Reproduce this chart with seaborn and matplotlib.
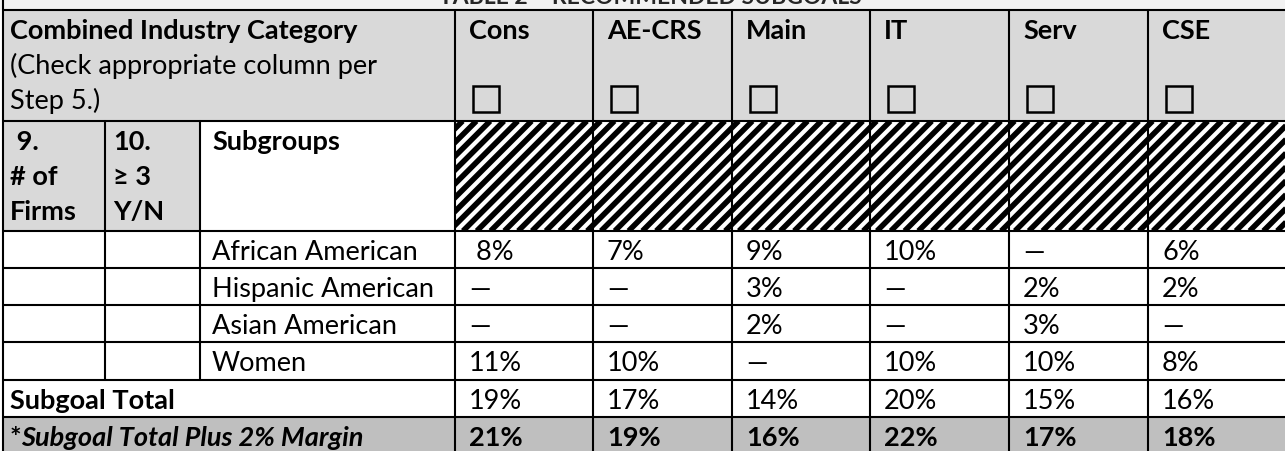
import matplotlib
matplotlib.use("Agg")
import numpy as np
import matplotlib.pyplot as plt
import seaborn as sns
from matplotlib.patches import Rectangle
from matplotlib.collections import LineCollection

# table content
title = "TABLE 2 – RECOMMENDED SUBGOALS"
header_lines = ["Combined Industry Category", "(Check appropriate column per", "Step 5.)"]
categories = ["Cons", "AE-CRS", "Main", "IT", "Serv", "CSE"]
firms_header = [" 9.", "# of", "Firms"]
three_header = ["10.", "≥ 3", "Y/N"]
subgroups = ["African American", "Hispanic American", "Asian American", "Women"]
african_american = [" 8%", "7%", "9%", "10%", "—", "6%"]
hispanic_american = ["—", "—", "3%", "—", "2%", "2%"]
asian_american = ["—", "—", "2%", "—", "3%", "—"]
women = ["11%", "10%", "—", "10%", "10%", "8%"]
subgoal_total = ["19%", "17%", "14%", "20%", "15%", "16%"]
subgoal_plus_margin = ["21%", "19%", "16%", "22%", "17%", "18%"]

sns.set_theme(style="white")
plt.rcParams["font.family"] = ["Lato", "DejaVu Sans"]

W, H = 1285, 452
col_x = [3, 105, 200, 455, 593, 732, 870, 1009, 1148, 1285]
row_y = [11, 122, 232, 269, 306, 343, 381, 418, 452]
hdr_gray = "#d9d9d9"
tot_gray = "#bfbfbf"
fs = 19.5
lw = 1.5
pitch = 35
pad = 28
lx = 10

fig = plt.figure(figsize=(W / 100, H / 100), dpi=100)
ax = fig.add_axes([0, 0, 1, 1])
ax.set_xlim(0, W)
ax.set_ylim(H, 0)
ax.axis("off")


def cell(x0, x1, y0, y1, color):
    ax.add_patch(Rectangle((x0, y0), x1 - x0, y1 - y0, facecolor=color, edgecolor="none", zorder=1))


def txt(x, y, s, weight="normal", style="normal"):
    ax.text(x, y, s, fontsize=fs, fontweight=weight, fontstyle=style,
            ha="left", va="baseline", color="black", zorder=5)


# backgrounds
cell(0, W, 0, row_y[0], "#f2f2f2")
cell(col_x[0], W, row_y[0], row_y[1], hdr_gray)
cell(col_x[0], col_x[2], row_y[1], row_y[2], hdr_gray)
cell(col_x[0], W, row_y[7], row_y[8], tot_gray)

# hatched block
hx0, hx1, hy0, hy1 = col_x[3], W, row_y[1], row_y[2]
clip = Rectangle((hx0, hy0), hx1 - hx0, hy1 - hy0, facecolor="white", edgecolor="none", zorder=1)
ax.add_patch(clip)
offsets = np.arange(hx0 + hy0 - 20, hx1 + hy1 + 20, 13.8)
segs = [[(c - hy1, hy1), (c - hy0, hy0)] for c in offsets]
stripes = LineCollection(segs, colors="black", linewidths=4.0, capstyle="butt", zorder=2)
ax.add_collection(stripes)
stripes.set_clip_path(clip.get_path(), clip.get_transform())

# title (cut off at the top, as in the source)
ax.text(650, 3.5, title, fontsize=16.5, fontweight="bold", ha="center", va="baseline", zorder=5)

# grid lines
for y in row_y[:-1]:
    ax.plot([col_x[0], W], [y, y], color="black", lw=lw, zorder=4, solid_capstyle="butt")
ax.plot([col_x[0], col_x[0]], [0, H], color="black", lw=lw, zorder=4)
for x in col_x[1:3]:
    ax.plot([x, x], [row_y[1], row_y[6]], color="black", lw=lw, zorder=4)
for x in col_x[3:-1]:
    ax.plot([x, x], [row_y[0], H], color="black", lw=lw, zorder=4)

# header text
base = [row_y[0] + pad + k * pitch for k in range(3)]
for k in range(3):
    txt(lx, base[k], header_lines[k], weight="bold" if k == 0 else "normal")
for i, name in enumerate(categories):
    x0 = col_x[3 + i]
    txt(x0 + 14, base[0], name, weight="bold")
    ax.add_patch(Rectangle((x0 + 18, base[2] - 22), 26, 26, facecolor="none",
                           edgecolor="black", lw=1.8, zorder=5))

# hatched row text
hb = [row_y[1] + pad + k * pitch for k in range(3)]
for k in range(3):
    txt(lx, hb[k], firms_header[k], weight="bold")
    txt(113, hb[k], three_header[k], weight="bold")
txt(212, hb[0], "Subgroups", weight="bold")

# body rows
body = [african_american, hispanic_american, asian_american, women]
for r, (name, vals) in enumerate(zip(subgroups, body)):
    yb = row_y[2 + r] + pad
    txt(212, yb, name)
    for i, v in enumerate(vals):
        txt(col_x[3 + i] + 14, yb, v)

yb = row_y[6] + pad
txt(lx, yb, "Subgoal Total", weight="bold")
for i, v in enumerate(subgoal_total):
    txt(col_x[3 + i] + 14, yb, v)

yb = row_y[7] + pad
txt(lx, yb, "*", weight="bold")
txt(lx + 11, yb, "Subgoal Total Plus 2% Margin", weight="bold", style="italic")
for i, v in enumerate(subgoal_plus_margin):
    txt(col_x[3 + i] + 14, yb, v, weight="bold")

fig.savefig("out.png", dpi=100)
